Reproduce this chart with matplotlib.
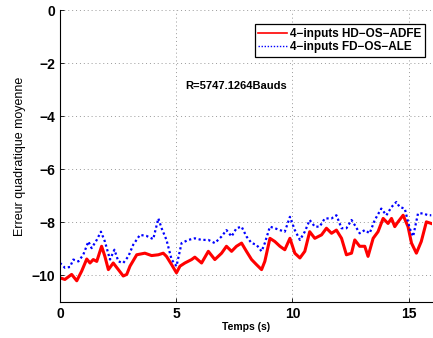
import numpy as np
import matplotlib
matplotlib.use("Agg")
import matplotlib.pyplot as plt

plt.rcParams['font.family'] = ['Liberation Sans', 'DejaVu Sans']

# red: 4-inputs HD-OS-ADFE
t_hd = [0.00, 0.21, 0.50, 0.72, 0.93, 1.15, 1.29, 1.43, 1.58, 1.79, 1.93, 2.08,
        2.29, 2.51, 2.72, 2.87, 3.01, 3.30, 3.65, 3.94, 4.23, 4.44, 4.58, 4.80,
        5.01, 5.16, 5.37, 5.66, 5.80, 6.09, 6.38, 6.66, 6.95, 7.16, 7.38, 7.59,
        7.81, 8.02, 8.24, 8.45, 8.67, 8.81, 9.03, 9.24, 9.46, 9.67, 9.89, 10.10,
        10.32, 10.53, 10.74, 10.96, 11.25, 11.46, 11.68, 11.89, 12.11, 12.32, 12.54,
        12.68, 12.89, 13.11, 13.25, 13.47, 13.68, 13.90, 14.11, 14.26, 14.40, 14.54,
        14.76, 14.97, 15.12, 15.33, 15.54, 15.76, 15.97]
v_hd = [-10.09, -10.15, -9.96, -10.20, -9.84, -9.38, -9.53, -9.40, -9.47, -8.90, -9.28, -9.78,
        -9.53, -9.78, -10.02, -9.96, -9.65, -9.22, -9.16, -9.25, -9.22, -9.16, -9.28, -9.59,
        -9.90, -9.65, -9.53, -9.40, -9.31, -9.53, -9.09, -9.40, -9.16, -8.90, -9.09, -8.90,
        -8.78, -9.09, -9.40, -9.59, -9.78, -9.47, -8.60, -8.72, -8.90, -9.03, -8.60, -9.16,
        -9.34, -9.09, -8.35, -8.60, -8.47, -8.22, -8.41, -8.29, -8.60, -9.22, -9.16,
        -8.66, -8.90, -8.90, -9.28, -8.60, -8.35, -7.85, -8.04, -7.85, -8.16, -7.98,
        -7.73, -8.16, -8.78, -9.16, -8.72, -7.98, -8.04]

# blue: 4-inputs FD-OS-ALE
t_fd = [0.00, 0.21, 0.43, 0.57, 0.79, 1.00, 1.22, 1.36, 1.58, 1.76, 1.93, 2.15,
        2.34, 2.51, 2.72, 2.94, 3.15, 3.44, 3.72, 4.01, 4.23, 4.37, 4.58, 4.80,
        5.01, 5.23, 5.52, 5.80, 6.09, 6.38, 6.66, 6.95, 7.16, 7.38, 7.59, 7.81,
        8.02, 8.24, 8.45, 8.67, 8.81, 9.03, 9.24, 9.46, 9.67, 9.89, 10.10, 10.32,
        10.53, 10.74, 10.96, 11.17, 11.39, 11.68, 11.89, 12.11, 12.32, 12.54, 12.68,
        12.89, 13.11, 13.32, 13.54, 13.82, 14.04, 14.26, 14.47, 14.61, 14.83, 15.04,
        15.19, 15.40, 15.62, 15.83, 15.97]
v_fd = [-9.53, -9.71, -9.68, -9.40, -9.47, -9.22, -8.72, -8.97, -8.66, -8.35, -8.72, -9.40,
        -9.03, -9.47, -9.53, -9.28, -8.84, -8.47, -8.51, -8.63, -7.85, -8.22, -8.66, -9.40,
        -9.65, -8.78, -8.66, -8.60, -8.66, -8.66, -8.78, -8.53, -8.29, -8.53, -8.22, -8.16,
        -8.53, -8.78, -8.84, -9.09, -8.78, -8.16, -8.22, -8.29, -8.35, -7.79, -8.29, -8.66,
        -8.35, -7.91, -8.16, -8.16, -7.85, -7.85, -7.73, -8.22, -8.22, -7.91, -8.10,
        -8.41, -8.29, -8.41, -7.91, -7.48, -7.73, -7.42, -7.23, -7.42, -7.48, -8.22,
        -8.53, -7.66, -7.66, -7.73, -7.73]

x_ticks = [0, 5, 10, 15]
y_ticks = [0, -2, -4, -6, -8, -10]

fig = plt.figure(figsize=(4.33, 3.38), dpi=100)
ax = fig.add_axes([0.1386, 0.1065, 0.859, 0.8635])

ax.plot(t_hd, v_hd, color='red', lw=2.2, label='4\u2212inputs HD\u2212OS\u2212ADFE')
ax.plot(t_fd, v_fd, color='blue', lw=1.6, ls=(0, (1, 1.2)), label='4\u2212inputs FD\u2212OS\u2212ALE')

ax.set_xlim(0, 16)
ax.set_ylim(-11, 0)
ax.set_xticks(x_ticks)
ax.set_yticks(y_ticks)
ax.set_xticklabels([str(v) for v in x_ticks], fontsize=10, fontweight='bold')
ax.set_yticklabels([str(v).replace('-', '\u2212') for v in y_ticks], fontsize=10, fontweight='bold')
ax.tick_params(direction='in', length=3, width=0.6)
ax.grid(True, ls=(0, (1, 3)), color='#999999', lw=0.7)
ax.spines['top'].set_visible(False)
ax.spines['right'].set_visible(False)

ax.set_xlabel('Temps (s)', fontsize=7.5, fontweight='bold', labelpad=1)
ax.set_ylabel('Erreur quadratique moyenne', fontsize=9, labelpad=4)

ax.text(5.37, -2.87, 'R=5747.1264Bauds', fontsize=8, fontweight='bold', va='center')

leg = ax.legend(loc='upper right', bbox_to_anchor=(0.981, 0.952), borderaxespad=0,
                fancybox=False, edgecolor='black', framealpha=1,
                prop={'size': 8.5, 'weight': 'bold'}, handlelength=2.4,
                borderpad=0.3, labelspacing=0.15, handletextpad=0.3)
leg.get_frame().set_linewidth(0.9)
leg.get_lines()[0].set_linewidth(1.2)
leg.get_lines()[1].set_linewidth(1.0)

fig.savefig('out.png', dpi=100)
